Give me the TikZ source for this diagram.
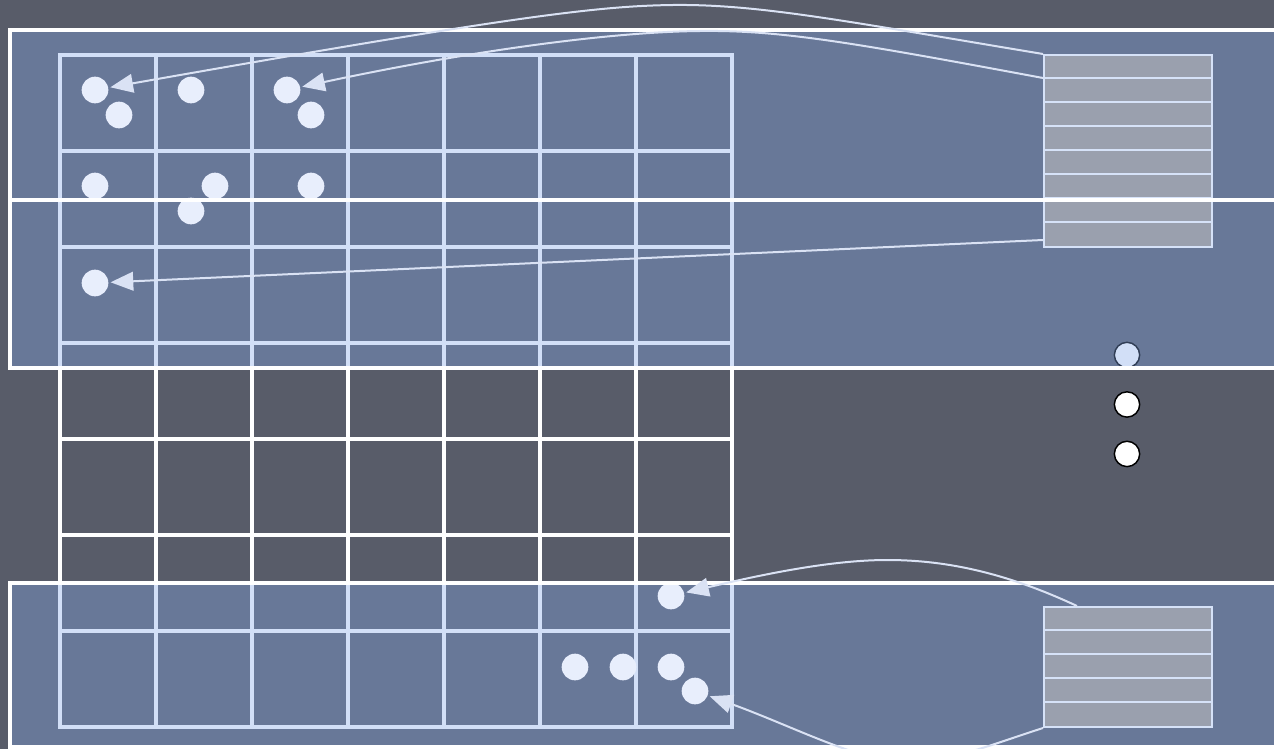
\documentclass[tikz,border=0pt]{standalone}
\usepackage{tikz}
\usetikzlibrary{arrows.meta,positioning,calc}

\definecolor{slate}{RGB}{88,92,105}
\definecolor{bandblue}{RGB}{133,170,234}
\definecolor{chalk}{RGB}{232,238,252}
\definecolor{stackgray}{RGB}{154,160,174}
\definecolor{stackedge}{RGB}{214,226,248}
\definecolor{wire}{RGB}{218,226,244}

\begin{document}
\begin{tikzpicture}[
        x=0.75pt, y=-0.75pt,
        node distance=17pt,
        gridline/.style={draw=white, line width=3.3pt, line cap=rect},
        band/.style={fill=bandblue, fill opacity=0.37},
        bandedge/.style={draw=white, line width=3.3pt},
        dot/.style={
            circle,
            fill=chalk,
            inner sep=0pt,
            minimum size=20pt
        },
        pip/.style={
            circle,
            draw=black,
            line width=1.1pt,
            fill=white,
            inner sep=0pt,
            minimum size=19pt
        },
        stack/.style={
            draw=stackedge,
            line width=1.5pt,
            fill=stackgray,
            inner sep=0pt,
            minimum width=126pt
        },
        stackrow/.style={draw=stackedge, line width=1.5pt},
        flow/.style={draw=wire, line width=1.5pt, -{Triangle[length=17pt,width=14pt]}, shorten >=1.5pt}
    ]

    \useasboundingbox (0,0) rectangle (1274,749);
    \clip (0,0) rectangle (1274,749);
    \fill[slate] (0,0) rectangle (1274,749);

    % 7 x 7 grid
    \foreach \i in {0,...,7} {
        \draw[gridline] (60+96*\i,55) -- (60+96*\i,727);
        \draw[gridline] (60,55+96*\i) -- (732,55+96*\i);
    }

    \node[pip] (pipa) at (1127,355) {};
    \node[pip, below=of pipa] (pipb) {};
    \node[pip, below=of pipb] (pipc) {};

    % bands
    \fill[band] (10,30) rectangle (1290,368);
    \fill[band] (10,583) rectangle (1290,747);

    \node[dot] (r1a) at (95,90) {};
    \node[dot] (r1b) at (119,115) {};
    \node[dot] (r1c) at (191,90) {};
    \node[dot] (r1d) at (287,90) {};
    \node[dot] (r1e) at (311,115) {};
    \node[dot] (r2a) at (95,186) {};
    \node[dot] (r2b) at (215,186) {};
    \node[dot] (r2c) at (191,211) {};
    \node[dot] (r2d) at (311,186) {};
    \node[dot] (r3a) at (95,283) {};
    \node[dot] (r6a) at (671,596) {};
    \node[dot] (r7a) at (575,667) {};
    \node[dot] (r7b) at (623,667) {};
    \node[dot] (r7c) at (671,667) {};
    \node[dot] (r7d) at (695,691) {};

    \node[stack, minimum height=144pt] (topstack) at (1128,151) {};
    \foreach \k in {1,...,7}
        \draw[stackrow] ($(topstack.north west)+(0,24*\k)$) -- ($(topstack.north east)+(0,24*\k)$);
    \node[stack, minimum height=90pt] (botstack) at (1128,667) {};
    \foreach \k in {1,...,4}
        \draw[stackrow] ($(botstack.north west)+(0,24*\k)$) -- ($(botstack.north east)+(0,24*\k)$);

    \draw[bandedge] (10,30) rectangle (1290,200) (10,200) rectangle (1290,368);
    \draw[bandedge] (10,583) rectangle (1290,747);

    \draw[flow] (topstack.north west) .. controls (850,22) and (760,4) .. (673,5)
        .. controls (600,6) and (520,15) .. (r1a);
    \draw[flow] ($(topstack.north west)+(0,24)$) .. controls (850,42) and (780,30) .. (700,31)
        .. controls (600,32) and (450,55) .. (r1d);
    \draw[flow] ($(topstack.south west)+(0,-8)$) -- (r3a);
    \draw[flow] ($(botstack.north west)+(34,0)$) .. controls (1000,570) and (940,560) .. (887,560)
        .. controls (830,560) and (760,575) .. (r6a);
    \draw[flow] (botstack.south west) .. controls (990,745) and (950,762) .. (905,762)
        .. controls (860,762) and (790,725) .. (r7d);

\end{tikzpicture}
\end{document}
